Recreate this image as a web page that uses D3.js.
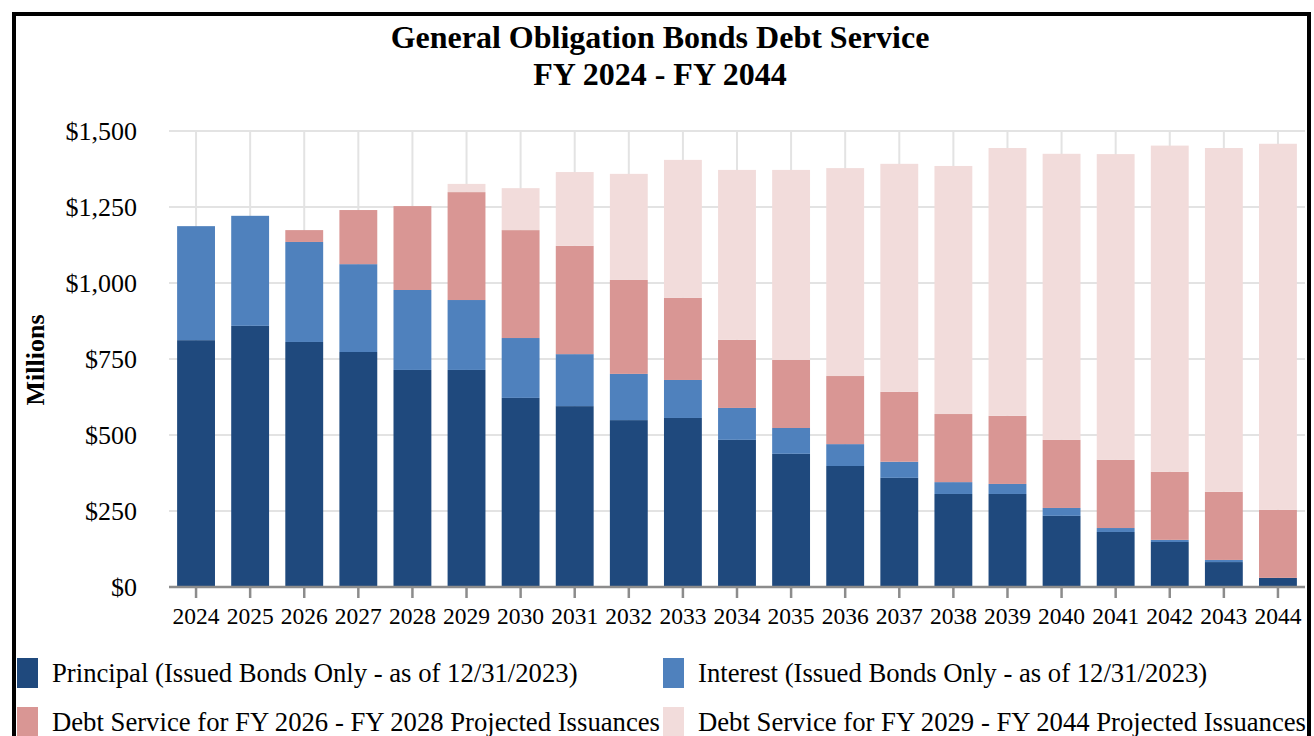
<!DOCTYPE html>
<html lang="en">
	<head>
		<meta charset="utf-8">
		<title>GO Bonds Debt Service</title>
		<script type="text/javascript" src="https://cdn.jsdelivr.net/npm/d3@7"></script>
		<style type="text/css">
			body {
				margin: 0;
				background: #fff;
			}
			text {
				font-family: "Liberation Serif", "Times New Roman", serif;
				fill: #000;
			}
		</style>
	</head>
	<body>
		<script type="text/javascript">

		// values, $ millions
		var years = ["2024","2025","2026","2027","2028","2029","2030","2031","2032","2033","2034",
		             "2035","2036","2037","2038","2039","2040","2041","2042","2043","2044"];
		var principal = [812, 859, 806, 773, 714, 714, 622, 595, 549, 556, 484, 438, 398, 359, 306, 306, 234, 181, 148, 82, 30];
		var interest  = [375, 362, 329, 289, 263, 230, 197, 171, 152, 125, 105, 85, 72, 53, 39, 33, 26, 13, 7, 7, 0];
		var ds2628    = [0, 0, 39, 178, 276, 355, 355, 356, 309, 270, 224, 224, 224, 230, 224, 224, 224, 224, 224, 224, 224];
		var ds2944    = [0, 0, 0, 0, 0, 27, 138, 243, 349, 454, 559, 625, 684, 750, 816, 881, 941, 1006, 1073, 1131, 1204];
		var yTicks = [0, 250, 500, 750, 1000, 1250, 1500];

		var seriesNames = ["Principal (Issued Bonds Only - as of 12/31/2023)",
		                   "Interest (Issued Bonds Only - as of 12/31/2023)",
		                   "Debt Service for FY 2026 - FY 2028 Projected Issuances",
		                   "Debt Service for FY 2029 - FY 2044 Projected Issuances"];
		var colors = ["#1f497d", "#4f81bd", "#d99694", "#f2dcdb"];

		var w = 1314;
		var h = 736;
		var plotLeft = 169, plotRight = 1305, plotTop = 131, plotBottom = 587;

		//build rows for the stack
		var table = years.map(function(y, i) {
			return {year: y, s0: principal[i], s1: interest[i], s2: ds2628[i], s3: ds2944[i]};
		});
		var stacked = d3.stack().keys(["s0","s1","s2","s3"])(table);

		var svg = d3.select("body")
		            .append("svg")
		            .attr("width", w)
		            .attr("height", h);

		var xScale = d3.scaleBand()
		               .domain(years)
		               .range([plotLeft, plotRight])
		               .paddingInner(0.3)
		               .paddingOuter(0.15);

		var yScale = d3.scaleLinear()
		               .domain([0, 1500])
		               .range([plotBottom, plotTop]);

		//horizontal gridlines
		svg.append("g")
		   .selectAll("line")
		   .data(yTicks)
		   .enter()
		   .append("line")
		   .attr("x1", plotLeft)
		   .attr("x2", plotRight)
		   .attr("y1", function(d) { return yScale(d); })
		   .attr("y2", function(d) { return yScale(d); })
		   .attr("stroke", "#e3e3e3")
		   .attr("stroke-width", 2);

		//vertical gridlines at each year
		svg.append("g")
		   .selectAll("line")
		   .data(years)
		   .enter()
		   .append("line")
		   .attr("x1", function(d) { return xScale(d) + xScale.bandwidth() / 2; })
		   .attr("x2", function(d) { return xScale(d) + xScale.bandwidth() / 2; })
		   .attr("y1", plotTop)
		   .attr("y2", plotBottom)
		   .attr("stroke", "#e3e3e3")
		   .attr("stroke-width", 2);

		//bars
		svg.append("g")
		   .selectAll("g")
		   .data(stacked)
		   .enter()
		   .append("g")
		   .attr("fill", function(d, i) { return colors[i]; })
		   .selectAll("rect")
		   .data(function(d) { return d; })
		   .enter()
		   .append("rect")
		   .attr("x", function(d) { return xScale(d.data.year); })
		   .attr("y", function(d) { return yScale(d[1]); })
		   .attr("width", xScale.bandwidth())
		   .attr("height", function(d) { return yScale(d[0]) - yScale(d[1]); });

		//y axis
		var yAxis = d3.axisLeft(yScale)
		              .tickValues(yTicks)
		              .tickSize(0)
		              .tickPadding(32)
		              .tickFormat(function(d) { return "$" + d3.format(",")(d); });

		var gy = svg.append("g")
		            .attr("transform", "translate(" + plotLeft + ",0)")
		            .call(yAxis);
		gy.select(".domain").remove();
		gy.selectAll("text")
		  .attr("font-family", "Liberation Serif, serif")
		  .attr("font-size", "26px")
		  .attr("fill", "#000");

		//x axis
		var xAxis = d3.axisBottom(xScale)
		              .tickSize(11)
		              .tickPadding(9)
		              .tickSizeOuter(0);

		var gx = svg.append("g")
		            .attr("transform", "translate(0," + plotBottom + ")")
		            .call(xAxis);
		gx.select(".domain")
		  .attr("stroke", "#8c8c8c")
		  .attr("stroke-width", 2.5)
		  .attr("d", "M" + plotLeft + ",0H" + plotRight);
		gx.selectAll(".tick line")
		  .attr("stroke", "#8c8c8c")
		  .attr("stroke-width", 2.5);
		gx.selectAll("text")
		  .attr("font-family", "Liberation Serif, serif")
		  .attr("font-size", "23.5px")
		  .attr("fill", "#000");

		//title
		svg.append("text")
		   .attr("x", 660)
		   .attr("y", 48)
		   .attr("text-anchor", "middle")
		   .attr("font-size", "32px")
		   .attr("font-weight", "bold")
		   .text("General Obligation Bonds Debt Service");

		svg.append("text")
		   .attr("x", 660)
		   .attr("y", 85)
		   .attr("text-anchor", "middle")
		   .attr("font-size", "32px")
		   .attr("font-weight", "bold")
		   .text("FY 2024 - FY 2044");

		//y axis title
		svg.append("text")
		   .attr("transform", "translate(44,360) rotate(-90)")
		   .attr("text-anchor", "middle")
		   .attr("font-size", "26px")
		   .attr("font-weight", "bold")
		   .text("Millions");

		//legend, two columns
		var legendX = [17, 663];
		var legendY = [658, 707];
		var legend = svg.append("g")
		                .selectAll("g")
		                .data(seriesNames)
		                .enter()
		                .append("g")
		                .attr("transform", function(d, i) {
		                  return "translate(" + legendX[i % 2] + "," + legendY[Math.floor(i / 2)] + ")";
		                });

		legend.append("rect")
		      .attr("width", 21)
		      .attr("height", 30)
		      .attr("fill", function(d, i) { return colors[i]; });

		legend.append("text")
		      .attr("x", 35)
		      .attr("y", 24)
		      .attr("font-size", "26.7px")
		      .text(function(d) { return d; });

		//frame on top
		svg.append("rect")
		   .attr("x", 14)
		   .attr("y", 14)
		   .attr("width", 1295)
		   .attr("height", 800)
		   .attr("fill", "none")
		   .attr("stroke", "#000")
		   .attr("stroke-width", 4);

		</script>
	</body>
</html>
